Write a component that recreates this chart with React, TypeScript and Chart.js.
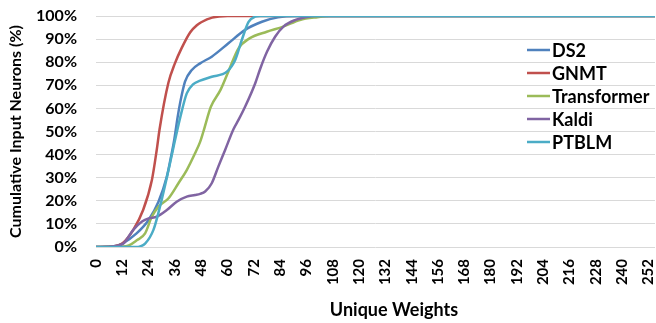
import React, { useEffect, useRef } from "react";
import { Chart, registerables } from "chart.js";

Chart.register(...registerables);

const SERIES_NAMES = ["DS2", "GNMT", "Transformer", "Kaldi", "PTBLM"];
const SERIES_COLORS = ["#4F81BD", "#C0504D", "#9BBB59", "#8064A2", "#4BACC6"];

const DS2_X = [0, 8, 12, 18.5, 24, 28.5, 32.3, 34, 35.8, 37.2, 38.4, 40.6, 43.7, 47.5, 52.8, 60.4, 68, 75.7, 83, 91, 255];
const DS2_Y = [0, 0.3, 1.5, 5.9, 11.7, 19.6, 30.4, 38, 47, 56, 62.5, 71.6, 76.6, 79.5, 82.4, 88.2, 94, 97.5, 99.4, 100, 100];

const GNMT_X = [0, 8, 12, 17, 21.5, 25.5, 27.7, 29, 33, 36, 39, 43, 46, 48, 53, 60, 255];
const GNMT_Y = [0, 0.3, 1.5, 7.4, 16, 29, 42, 51, 71, 79.5, 86, 93, 96, 97.3, 99.3, 100, 100];

const TRANSFORMER_X = [0, 12, 15, 18.6, 22.4, 25.4, 28.5, 33, 37.6, 41.4, 45.2, 47.5, 49, 52.4, 56.8, 60.4, 65, 70, 77.9, 85.4, 93, 101, 107, 255];
const TRANSFORMER_Y = [0, 0.2, 0.7, 2.9, 5.9, 13, 17.5, 21, 27.6, 33.3, 40.6, 45.5, 50, 60.7, 68, 76, 86, 90.3, 93.2, 95.4, 98.3, 99.5, 100, 100];

const KALDI_X = [0, 8, 12.5, 17, 21, 24, 27.7, 32.3, 36.8, 41.4, 45.2, 47.5, 49.8, 52.8, 55.8, 58.9, 62.7, 65, 68, 72.6, 75, 78, 81.7, 85.5, 91, 95.4, 100, 255];
const KALDI_Y = [0, 0.3, 1.5, 7.4, 11, 12.4, 13.1, 16, 19.6, 21.8, 22.5, 23, 24, 27.6, 34.8, 42, 51, 55, 60.7, 70.8, 77.4, 84.5, 91, 95.4, 98.3, 99.4, 100, 100];

const PTBLM_X = [0, 18, 22.4, 26.2, 29.2, 33, 35.3, 38.4, 41.4, 44.4, 47.5, 52.8, 59.7, 63.5, 66.5, 69.6, 72.6, 75, 255];
const PTBLM_Y = [0, 0, 1.5, 7.4, 17.5, 33, 43, 56, 66.5, 70.5, 72, 73.7, 75.9, 81, 89.6, 97.5, 99.7, 100, 100];

const SERIES_X = [DS2_X, GNMT_X, TRANSFORMER_X, KALDI_X, PTBLM_X];
const SERIES_Y = [DS2_Y, GNMT_Y, TRANSFORMER_Y, KALDI_Y, PTBLM_Y];

const X_MIN = 0;
const X_MAX = 255;
const X_STEP = 12;
const Y_STEP = 10;

const X_TITLE = "Unique Weights";
const Y_TITLE = "Cumulative Input Neurons (%)";

const FONT = "Lato";

const zeroPad = (s: any) => {
  s.paddingLeft = 0;
  s.paddingRight = 0;
  s.paddingTop = 0;
  s.paddingBottom = 0;
};

const overlayPlugin = {
  id: "overlay",
  afterDraw(chart: any) {
    const ctx = chart.ctx;
    ctx.save();
    // legend
    ctx.font = `bold 18px ${FONT}`;
    ctx.textBaseline = "middle";
    ctx.textAlign = "left";
    const startY = 50;
    const gap = 23;
    SERIES_NAMES.forEach((name, i) => {
      const y = startY + i * gap;
      ctx.strokeStyle = SERIES_COLORS[i];
      ctx.lineWidth = 2.5;
      ctx.beginPath();
      ctx.moveTo(527, y);
      ctx.lineTo(550, y);
      ctx.stroke();
      ctx.fillStyle = "#000";
      ctx.fillText(name, 552, y + 1);
    });
    // x title
    ctx.font = `bold 18px ${FONT}`;
    ctx.textAlign = "center";
    ctx.fillText(X_TITLE, 394, 310);
    ctx.restore();
  },
};

export default function App() {
  const ref = useRef<HTMLCanvasElement | null>(null);
  useEffect(() => {
    if (!ref.current) return;
    const datasets = SERIES_NAMES.map((name, i) => ({
      label: name,
      data: SERIES_X[i].map((x, j) => ({ x, y: SERIES_Y[i][j] })),
      borderColor: SERIES_COLORS[i],
      backgroundColor: SERIES_COLORS[i],
      borderWidth: 2.5,
      pointRadius: 0,
      fill: false,
      cubicInterpolationMode: "monotone" as const,
      order: SERIES_NAMES.length - 1 - i,
    }));
    const chart = new Chart(ref.current, {
      type: "line",
      data: { datasets },
      options: {
        animation: false,
        responsive: false,
        devicePixelRatio: 1,
        layout: { autoPadding: false, padding: { left: 0, right: 1, top: 16, bottom: 0 } },
        plugins: { legend: { display: false }, tooltip: { enabled: false } },
        scales: {
          x: {
            type: "linear",
            min: X_MIN,
            max: X_MAX,
            grid: { display: false, drawTicks: false },
            border: { display: false },
            ticks: {
              stepSize: X_STEP,
              includeBounds: false,
              autoSkip: false,
              maxRotation: 90,
              minRotation: 90,
              padding: 12,
              color: "#000",
              font: { family: FONT, size: 15, weight: "bold" },
            },
            afterFit: (s: any) => {
              s.height = 76;
              zeroPad(s);
            },
          },
          y: {
            min: 0,
            max: 100,
            grid: { color: "#D9D9D9", lineWidth: 1, drawTicks: false },
            border: { display: false },
            ticks: {
              stepSize: Y_STEP,
              autoSkip: false,
              padding: 19,
              color: "#000",
              font: { family: FONT, size: 16, weight: "bold" },
              callback: (v: any) => `${v}%`,
            },
            title: {
              display: true,
              text: Y_TITLE,
              color: "#000",
              padding: { top: 6, bottom: 0 },
              font: { family: FONT, size: 16, weight: "bold" },
            },
            afterFit: (s: any) => {
              s.width = 96;
              zeroPad(s);
            },
          },
        },
      },
      plugins: [overlayPlugin],
    });
    return () => chart.destroy();
  }, []);
  return (
    <div style={{ position: "fixed", left: 0, top: 0, width: 656, height: 323, background: "#fff" }}>
      <canvas ref={ref} width={656} height={323} style={{ width: 656, height: 323 }} />
    </div>
  );
}
